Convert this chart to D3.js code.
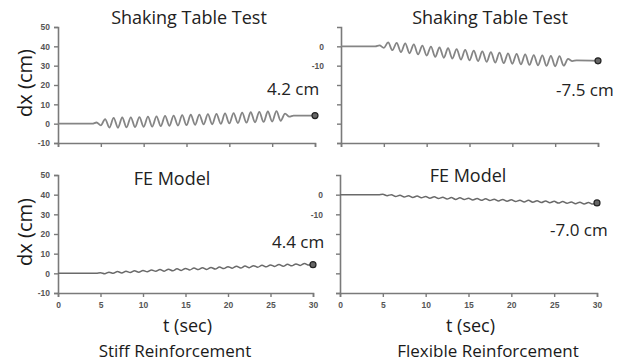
<!DOCTYPE html>
<html>
<head>
<meta charset="utf-8">
<script src="https://cdn.jsdelivr.net/npm/d3@7"></script>
<style>
  body { margin: 0; background: #fff; }
  svg { display: block; }
</style>
</head>
<body>
<div id="content-box"></div>
<script>
// time samples (sec) for the shaking table records
var tTop = [0, 4.0, 4.5, 5.0, 5.5, 6.0, 6.5, 7.0, 7.5, 8.0, 8.5, 9.0, 9.5, 10.0, 10.5, 11.0, 11.5, 12.0,
  12.5, 13.0, 13.5, 14.0, 14.5, 15.0, 15.5, 16.0, 16.5, 17.0, 17.5, 18.0, 18.5, 19.0, 19.5, 20.0,
  20.5, 21.0, 21.5, 22.0, 22.5, 23.0, 23.5, 24.0, 24.5, 25.0, 25.5, 26.0, 26.5, 27.0, 27.5, 30];

// stiff reinforcement, shaking table test (cm)
var dxStiffTest = [0, 0, 0.6, -0.9, 2.4, -2.0, 3.0, -2.1, 3.2, -1.9, 3.3, -1.8, 3.4, -1.6, 3.6, -1.5, 3.8, -1.3,
  4.0, -1.1, 4.2, -1.0, 4.4, -0.8, 4.6, -0.6, 4.7, -0.4, 4.9, -0.3, 5.1, -0.1, 5.3, 0.1,
  5.5, 0.3, 5.7, 0.5, 5.9, 0.7, 6.1, 0.9, 6.3, 1.1, 6.5, 1.5, 5.2, 3.6, 4.2, 4.2];

// flexible reinforcement, shaking table test (cm)
var dxFlexTest = [0, 0, 0.5, -0.8, 2.0, -2.0, 1.8, -3.0, 1.5, -3.6, 1.0, -4.2, 0.4, -4.8, -0.1, -5.4, -0.6, -5.9,
  -1.0, -6.3, -1.4, -6.8, -1.8, -7.2, -2.2, -7.6, -2.6, -8.0, -3.0, -8.4, -3.3, -8.7, -3.6, -9.0,
  -3.9, -9.3, -4.2, -9.6, -4.5, -9.8, -4.7, -10.1, -4.9, -10.3, -5.1, -10.0, -6.5, -7.6, -7.3, -7.5];

// time samples (sec) for the FE model
var tFE = [0, 4.5, 5.0, 5.5, 6.0, 6.5, 7.0, 7.5, 8.0, 8.5, 9.0, 9.5, 10.0, 10.5, 11.0, 11.5, 12.0, 12.5,
  13.0, 13.5, 14.0, 14.5, 15.0, 15.5, 16.0, 16.5, 17.0, 17.5, 18.0, 18.5, 19.0, 19.5, 20.0, 20.5,
  21.0, 21.5, 22.0, 22.5, 23.0, 23.5, 24.0, 24.5, 25.0, 25.5, 26.0, 26.5, 27.0, 27.5, 28.0, 28.5,
  29.0, 29.5, 30.0];

var dxStiffFE = [0, 0, 0.3, -0.2, 0.6, 0.0, 0.9, 0.2, 1.1, 0.4, 1.3, 0.6, 1.5, 0.8, 1.7, 1.0, 1.9, 1.1,
  2.1, 1.3, 2.3, 1.5, 2.5, 1.7, 2.7, 1.9, 2.9, 2.0, 3.0, 2.2, 3.2, 2.4, 3.4, 2.6,
  3.6, 2.7, 3.7, 2.9, 3.9, 3.1, 4.1, 3.3, 4.3, 3.5, 4.5, 3.6, 4.6, 3.8, 4.8, 4.0,
  5.0, 4.2, 4.4];

var dxFlexFE = [0, 0, 0.2, -0.5, 0.0, -0.9, -0.3, -1.2, -0.5, -1.4, -0.7, -1.6, -0.9, -1.8, -1.1, -2.0, -1.3, -2.2,
  -1.5, -2.4, -1.6, -2.5, -1.8, -2.7, -2.0, -2.9, -2.1, -3.0, -2.3, -3.2, -2.4, -3.3, -2.6, -3.5,
  -2.8, -3.7, -2.9, -3.8, -3.1, -4.0, -3.2, -4.1, -3.4, -4.3, -3.5, -4.4, -3.7, -4.6, -3.8, -4.7,
  -4.0, -4.8, -4.2];

var xTicks = [0, 5, 10, 15, 20, 25, 30];
var yTicksStiff = [-10, 0, 10, 20, 30, 40, 50];
var yTicksFlex = [0, -10, -20, -30, -40, -50];
var yLabelsFlex = ["0", "-10"];
var titles = ["Shaking Table Test", "Shaking Table Test", "FE Model", "FE Model"];
var endLabels = ["4.2 cm", "-7.5 cm", "4.4 cm", "-7.0 cm"];
var footers = ["Stiff Reinforcement", "Flexible Reinforcement"];

var width = 634, height = 363;
var svg = d3.select("#content-box").append("svg")
  .attr("width", width)
  .attr("height", height)
  .style("font-family", "'Open Sans', sans-serif");

var panels = [
  {t: tTop, dx: dxStiffTest, x0: 58, x1: 315, top: 27, bot: 143, dom: [-10, 50], yt: yTicksStiff, flex: false,
    title: [189, 24], lab: [267, 95], xl: false},
  {t: tTop, dx: dxFlexTest, x0: 341, x1: 598, top: 27, bot: 143, dom: [-50, 10], yt: yTicksFlex, flex: true,
    title: [490, 24], lab: [556, 96], xl: false},
  {t: tFE, dx: dxStiffFE, x0: 58, x1: 313, top: 175, bot: 293, dom: [-10, 50], yt: yTicksStiff, flex: false,
    title: [172, 185], lab: [272, 248], xl: true},
  {t: tFE, dx: dxFlexFE, x0: 340, x1: 597, top: 175, bot: 293, dom: [-50, 10], yt: yTicksFlex, flex: true,
    title: [468, 182], lab: [550, 236], xl: true}
];

panels.forEach(function(p, i) {
  var xscale = d3.scaleLinear().domain([0, 30]).range([p.x0, p.x1]);
  var yscale = d3.scaleLinear().domain(p.dom).range([p.bot, p.top]);

  var yAxis = d3.axisLeft(yscale).tickValues(p.yt).tickSize(4).tickPadding(p.flex ? 13 : 4)
    .tickFormat(function(d) {
      if (p.flex) return yLabelsFlex.indexOf(String(d)) >= 0 ? String(d) : "";
      return d;
    });
  var xAxis = d3.axisBottom(xscale).tickValues(xTicks).tickSize(4).tickPadding(5)
    .tickFormat(function(d) { return p.xl ? d : ""; });

  var gy = svg.append("g").attr("transform", "translate(" + p.x0 + ",0)").call(yAxis);
  var gx = svg.append("g").attr("transform", "translate(0," + p.bot + ")").call(xAxis);
  [gx, gy].forEach(function(g) {
    g.select(".domain").attr("stroke", "#7a7a7a").attr("stroke-width", 1.6);
    g.selectAll(".tick line").attr("stroke", "#7a7a7a").attr("stroke-width", 1.4);
    g.selectAll(".tick text").attr("fill", "#555").style("font-size", "8.5px")
      .style("font-weight", "bold").style("font-family", "Arial, 'Liberation Sans', sans-serif");
  });

  var pts = p.t.map(function(d, j) { return [d, p.dx[j]]; });
  var line = d3.line()
    .x(function(d) { return xscale(d[0]); })
    .y(function(d) { return yscale(d[1]); })
    .curve(d3.curveMonotoneX);

  svg.append("path")
    .datum(pts)
    .attr("fill", "none")
    .attr("stroke", i < 2 ? "#858585" : "#6a6a6a")
    .attr("stroke-width", i < 2 ? 1.8 : 1.5)
    .attr("d", line);

  var last = pts[pts.length - 1];
  svg.append("circle")
    .attr("cx", xscale(last[0]))
    .attr("cy", yscale(last[1]))
    .attr("r", 3)
    .attr("fill", "#666")
    .attr("stroke", "#222")
    .attr("stroke-width", 1.2);

  svg.append("text")
    .attr("x", p.title[0]).attr("y", p.title[1])
    .attr("text-anchor", "middle")
    .attr("fill", "#222")
    .style("font-size", "18px")
    .text(titles[i]);

  svg.append("text")
    .attr("x", p.lab[0]).attr("y", p.lab[1])
    .attr("fill", "#222")
    .style("font-size", "17px")
    .text(endLabels[i]);

  if (!p.flex) {
    svg.append("text")
      .attr("transform", "translate(32," + ((p.top + p.bot) / 2 - 2) + ") rotate(-90)")
      .attr("text-anchor", "middle")
      .attr("fill", "#1a1a1a")
      .style("font-size", "20px")
      .text("dx (cm)");
  }
  if (p.xl) {
    svg.append("text")
      .attr("x", (p.x0 + p.x1) / 2 + 2).attr("y", 332)
      .attr("text-anchor", "middle")
      .attr("fill", "#1a1a1a")
      .style("font-size", "18px")
      .text("t (sec)");
    svg.append("text")
      .attr("x", p.flex ? 488 : 175).attr("y", 357)
      .attr("text-anchor", "middle")
      .attr("fill", "#1a1a1a")
      .style("font-size", "17px")
      .text(footers[i - 2]);
  }
});
</script>
</body>
</html>
